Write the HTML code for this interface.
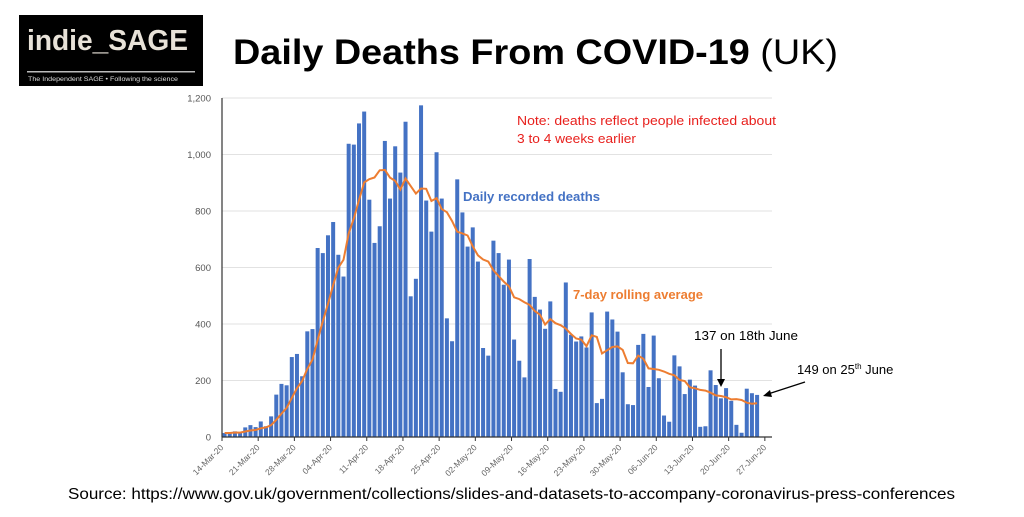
<!DOCTYPE html>
<html><head><meta charset="utf-8"><style>
body{margin:0;background:#fff;width:1024px;height:512px;overflow:hidden;font-family:"Liberation Sans",sans-serif}
</style></head><body>
<svg width="1024" height="512" xmlns="http://www.w3.org/2000/svg">
<g>
<rect x="19" y="15" width="184" height="71" fill="#000"/>
<text x="27" y="50" font-size="29" font-weight="bold" fill="#e8e2d8" textLength="161" lengthAdjust="spacingAndGlyphs">indie_SAGE</text>
<rect x="27" y="71" width="168" height="1.5" fill="#bbb"/>
<text x="28" y="81" font-size="6.5" fill="#ddd" textLength="150" lengthAdjust="spacingAndGlyphs">The Independent SAGE • Following the science</text>
</g>
<text x="233" y="64" font-size="35" fill="#000" textLength="605" lengthAdjust="spacingAndGlyphs"><tspan font-weight="bold">Daily Deaths From COVID-19</tspan> (UK)</text>
<g id="grid"></g>
<g id="bars"></g>
<path id="avg" fill="none" stroke="#ed7d31" stroke-width="2"/>
<g id="axes"></g>
<text x="517" y="125" font-size="13" fill="#e8201d" textLength="259" lengthAdjust="spacingAndGlyphs">Note: deaths reflect people infected about</text>
<text x="517" y="143" font-size="13" fill="#e8201d" textLength="119" lengthAdjust="spacingAndGlyphs">3 to 4 weeks earlier</text>
<text x="463" y="201" font-size="13" font-weight="bold" fill="#4472c4" textLength="137" lengthAdjust="spacingAndGlyphs">Daily recorded deaths</text>
<text x="573" y="299" font-size="13" font-weight="bold" fill="#ed7d31" textLength="130" lengthAdjust="spacingAndGlyphs">7-day rolling average</text>
<text x="694" y="340" font-size="13" fill="#000" textLength="104" lengthAdjust="spacingAndGlyphs">137 on 18th June</text>
<line x1="721" y1="349" x2="721" y2="383" stroke="#000" stroke-width="1.3"/>
<polygon points="717,379 725,379 721,387" fill="#000"/>
<text x="797" y="374" font-size="13" fill="#000">149 on 25<tspan font-size="8" dy="-5">th</tspan><tspan dy="5"> June</tspan></text>
<line x1="805" y1="382" x2="768" y2="394" stroke="#000" stroke-width="1.3"/>
<polygon points="763,396 770,390 772,397" fill="#000"/>
<text x="68" y="499" font-size="16" fill="#000" textLength="887" lengthAdjust="spacingAndGlyphs">Source:  https://www.gov.uk/government/collections/slides-and-datasets-to-accompany-coronavirus-press-conferences</text>
</svg>
<script>
const deaths=[14,14,20,15,34,42,35,55,38,73,150,188,183,283,294,215,374,382,669,651,714,761,645,568,1038,1035,1110,1152,840,687,746,1048,844,1029,936,1116,498,560,1174,837,727,1008,844,420,339,912,795,674,742,621,315,288,695,651,539,628,345,270,211,630,496,451,383,480,170,160,547,362,338,356,317,441,120,135,444,416,373,229,116,113,326,365,177,359,208,76,54,289,250,152,203,182,36,38,236,184,137,173,128,43,15,171,155,149];
const tickLabels=["14-Mar-20","21-Mar-20","28-Mar-20","04-Apr-20","11-Apr-20","18-Apr-20","25-Apr-20","02-May-20","09-May-20","16-May-20","23-May-20","30-May-20","06-Jun-20","13-Jun-20","20-Jun-20","27-Jun-20"];
const yTicks=[0,200,400,600,800,1000,1200];
const NS="http://www.w3.org/2000/svg";
const X0=222,DAY=5.17,Y0=437,YT=98,X1=772;
const xs=i=>X0+(i+0.5)*DAY;
const ys=v=>Y0-(v/1200)*(Y0-YT);
function mk(t,a,p){const e=document.createElementNS(NS,t);for(const k in a)e.setAttribute(k,a[k]);p.appendChild(e);return e;}
const grid=document.getElementById('grid'),axes=document.getElementById('axes'),bars=document.getElementById('bars');
yTicks.forEach(v=>{
 if(v>0){const l=mk('line',{x1:X0,x2:X1,y1:ys(v),y2:ys(v),stroke:'#e2e2e2','stroke-width':1},grid);
 
 }
 const t=mk('text',{x:211,y:ys(v)+3.5,'font-size':9.5,'text-anchor':'end',fill:'#555'},axes);
 t.textContent=v.toLocaleString('en-US');
 
 
});
deaths.forEach((v,i)=>{
 const r=mk('rect',{x:xs(i)-2,y:ys(v),width:4,height:Y0-ys(v),fill:'#4472c4'},bars);
 
 
});
let d='';
deaths.forEach((v,i)=>{const s=deaths.slice(Math.max(0,i-6),i+1);const a=s.reduce((p,c)=>p+c,0)/s.length;d+=(i?'L':'M')+xs(i).toFixed(1)+','+ys(a).toFixed(1);});
document.getElementById('avg').setAttribute('d',d);
const ya=mk('line',{x1:X0,x2:X0,y1:YT,y2:Y0,stroke:'#333','stroke-width':1.2},axes);


const xa=mk('line',{x1:X0,x2:X1,y1:Y0,y2:Y0,stroke:'#333','stroke-width':1.2},axes);


tickLabels.forEach((s,k)=>{
 const x=X0+k*7*DAY;
 mk('line',{x1:x,x2:x,y1:Y0,y2:Y0+4,stroke:'#333'},axes);
 const t=mk('text',{x:x+2,y:Y0+11,'font-size':8.5,'text-anchor':'end',fill:'#666',transform:`rotate(-45 ${x+2} ${Y0+11})`},axes);
 t.textContent=s;
 
 
});
</script>
</body></html>
